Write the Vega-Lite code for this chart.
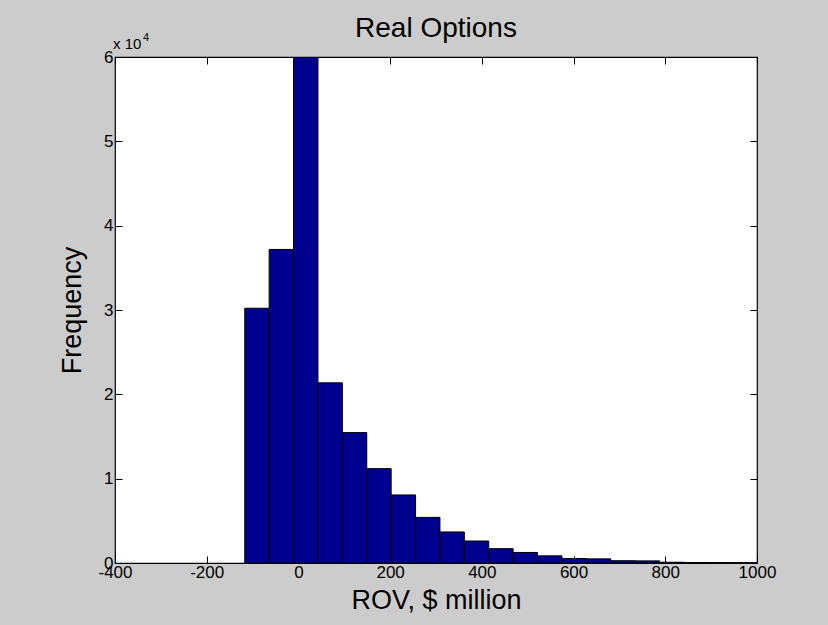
{
  "$schema": "https://vega.github.io/schema/vega-lite/v6.json",
  "width": 642,
  "height": 506,
  "autosize": "none",
  "padding": {"left": 115, "top": 57, "right": 71, "bottom": 62},
  "background": "#cccccc",
  "title": {
    "text": "Real Options",
    "font": "Liberation Sans",
    "fontSize": 28,
    "fontWeight": "normal",
    "color": "#000000",
    "baseline": "alphabetic",
    "offset": 15,
    "dy": 48,
    "anchor": "middle"
  },
  "data": {
    "values": [
      {"bin_start": -117.0, "bin_end": -63.8, "count": 30210},
      {"bin_start": -63.8, "bin_end": -10.6, "count": 37180},
      {"bin_start": -10.6, "bin_end": 42.6, "count": 60000},
      {"bin_start": 42.6, "bin_end": 95.8, "count": 21360},
      {"bin_start": 95.8, "bin_end": 149.0, "count": 15460},
      {"bin_start": 149.0, "bin_end": 202.2, "count": 11190},
      {"bin_start": 202.2, "bin_end": 255.4, "count": 8070},
      {"bin_start": 255.4, "bin_end": 308.6, "count": 5410},
      {"bin_start": 308.6, "bin_end": 361.8, "count": 3680},
      {"bin_start": 361.8, "bin_end": 415.0, "count": 2610},
      {"bin_start": 415.0, "bin_end": 468.2, "count": 1700},
      {"bin_start": 468.2, "bin_end": 521.4, "count": 1250},
      {"bin_start": 521.4, "bin_end": 574.6, "count": 850},
      {"bin_start": 574.6, "bin_end": 627.8, "count": 530},
      {"bin_start": 627.8, "bin_end": 681.0, "count": 490},
      {"bin_start": 681.0, "bin_end": 734.2, "count": 270},
      {"bin_start": 734.2, "bin_end": 787.4, "count": 250},
      {"bin_start": 787.4, "bin_end": 840.6, "count": 90},
      {"bin_start": 840.6, "bin_end": 893.8, "count": 60},
      {"bin_start": 893.8, "bin_end": 947.0, "count": 40},
      {"bin_start": 947.0, "bin_end": 1000.2, "count": 30}
    ]
  },
  "config": {
    "view": {"fill": "#ffffff", "stroke": "#000000", "strokeWidth": 1.2},
    "axis": {
      "domain": false,
      "grid": false,
      "tickColor": "#000000",
      "tickSize": -7,
      "tickWidth": 1,
      "labelColor": "#000000",
      "labelFont": "Liberation Sans",
      "labelFontSize": 17,
      "labelFlush": false,
      "labelOverlap": false,
      "labelBound": false,
      "titleColor": "#000000",
      "titleFont": "Liberation Sans",
      "titleFontSize": 27,
      "titleFontWeight": "normal"
    }
  },
  "resolve": {"axis": {"x": "independent", "y": "independent"}},
  "layer": [
    {
      "mark": {"type": "bar", "fill": "#00008f", "stroke": "#000000", "strokeWidth": 1, "clip": true},
      "encoding": {
        "x": {
          "field": "bin_start",
          "type": "quantitative",
          "scale": {"domain": [-400, 1000], "nice": false, "zero": false},
          "axis": {"orient": "bottom", "values": [-400, -200, 0, 200, 400, 600, 800, 1000], "labelExpr": "datum.value < 0 ? '-' + abs(datum.value) : '' + datum.value", "title": "ROV, $ million", "labelPadding": 8, "titlePadding": 7}
        },
        "x2": {"field": "bin_end"},
        "y": {
          "field": "count",
          "type": "quantitative",
          "scale": {"domain": [0, 60000], "nice": false},
          "axis": {"orient": "left", "values": [0, 10000, 20000, 30000, 40000, 50000, 60000], "labelExpr": "datum.value / 10000", "title": "Frequency", "labelPadding": 9, "titlePadding": 17}
        },
        "y2": {"datum": 0}
      }
    },
    {
      "mark": {"type": "bar", "opacity": 0, "clip": true},
      "encoding": {
        "x": {
          "field": "bin_start",
          "type": "quantitative",
          "axis": {"orient": "top", "values": [-400, -200, 0, 200, 400, 600, 800, 1000], "labels": false, "title": null}
        },
        "x2": {"field": "bin_end"},
        "y": {
          "field": "count",
          "type": "quantitative",
          "axis": {"orient": "right", "values": [0, 10000, 20000, 30000, 40000, 50000, 60000], "labels": false, "title": null}
        },
        "y2": {"datum": 0}
      }
    },
    {
      "data": {"values": [{"lbl": "x 10", "xv": -400, "yv": 60000}]},
      "mark": {"type": "text", "align": "left", "baseline": "alphabetic", "dx": -2, "dy": -8, "font": "Liberation Sans", "fontSize": 15, "color": "#000000"},
      "encoding": {
        "x": {"field": "xv", "type": "quantitative", "axis": null},
        "y": {"field": "yv", "type": "quantitative", "axis": null},
        "text": {"field": "lbl"}
      }
    },
    {
      "data": {"values": [{"lbl": "4", "xv": -400, "yv": 60000}]},
      "mark": {"type": "text", "align": "left", "baseline": "alphabetic", "dx": 28, "dy": -16, "font": "Liberation Sans", "fontSize": 11, "color": "#000000"},
      "encoding": {
        "x": {"field": "xv", "type": "quantitative", "axis": null},
        "y": {"field": "yv", "type": "quantitative", "axis": null},
        "text": {"field": "lbl"}
      }
    }
  ]
}
